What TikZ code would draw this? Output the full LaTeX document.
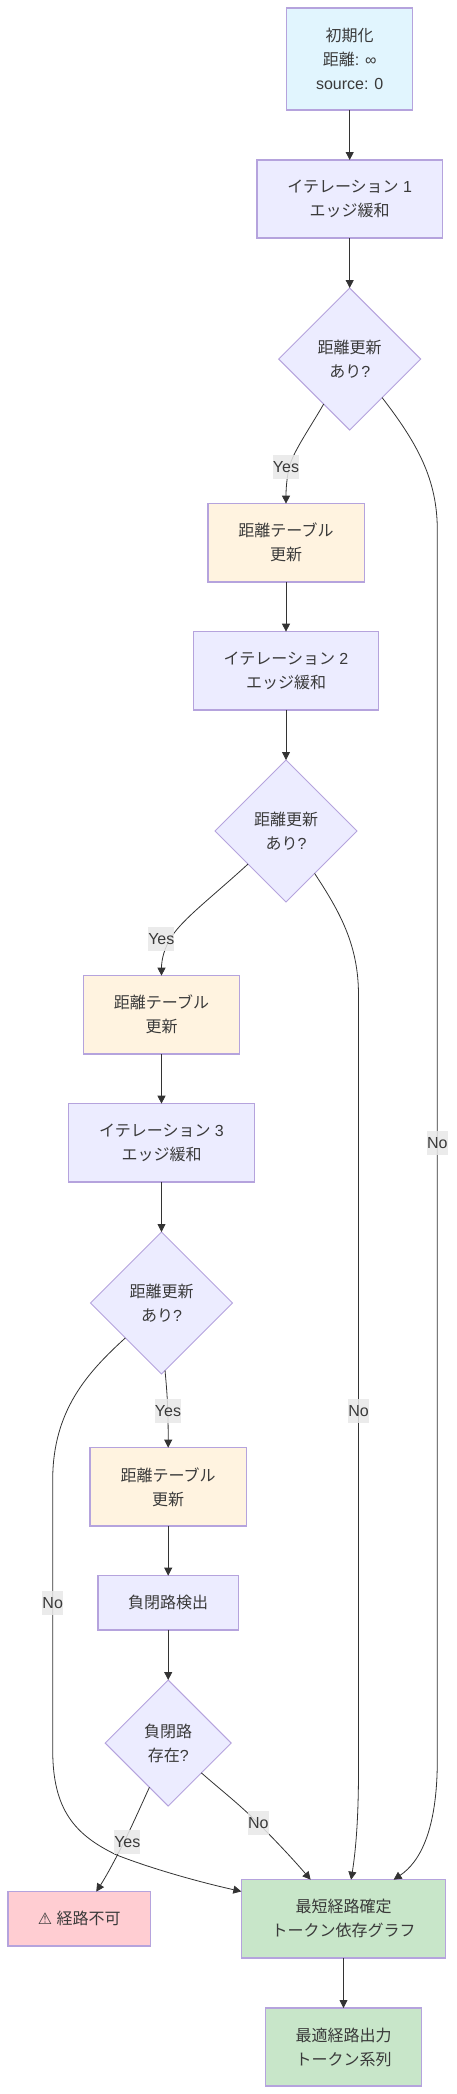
\documentclass[tikz,border=0pt]{standalone}
\usepackage{fontspec}
\setmainfont{Liberation Sans}
\newfontfamily\cjk{Noto Sans CJK JP}
\newfontfamily\sym{DejaVu Sans}
\usetikzlibrary{shapes.geometric,arrows.meta}
\definecolor{ink}{HTML}{3A3A3A}
\definecolor{edgeln}{HTML}{333333}
\definecolor{strokec}{HTML}{B5A3DD}
\definecolor{mainfill}{HTML}{ECECFF}
\definecolor{initfill}{HTML}{E1F5FE}
\definecolor{tabfill}{HTML}{FFF3E0}
\definecolor{okfill}{HTML}{C8E6C9}
\definecolor{badfill}{HTML}{FFCDD2}
\definecolor{lblfill}{HTML}{E8E8E8}
\tikzset{
  base/.style={draw=strokec,line width=1.3pt,inner sep=0pt,outer sep=0pt,text=ink,align=center,
    font=\fontsize{16}{24}\selectfont},
  box/.style={base,rectangle,fill=mainfill},
  initbox/.style={box,fill=initfill},
  tabbox/.style={box,fill=tabfill},
  okbox/.style={box,fill=okfill},
  badbox/.style={box,fill=badfill},
  dec/.style={base,diamond,aspect=1,fill=mainfill,line width=1pt},
  conn/.style={draw=edgeln,line width=0.8pt,-{Triangle[length=8pt,width=8pt]}},
  lbl/.style={fill=lblfill,fill opacity=0.85,text opacity=1,text=ink,inner sep=0pt,outer sep=0pt,
    minimum height=24pt,font=\fontsize{16}{24}\selectfont},
}
\begin{document}
\begin{tikzpicture}[x=1pt,y=-1pt]
\useasboundingbox (0,0) rectangle (456,2094);
\node[initbox,minimum width=126pt,minimum height=102pt] (init) at (349.7,59) {{\cjk 初期化}\\{\cjk 距離}: ∞\\source: 0};
\node[box,minimum width=185.6pt,minimum height=78pt] (it1) at (349.7,199) {{\cjk イテレーション} 1\\{\cjk エッジ緩和}};
\node[dec,minimum width=142pt,minimum height=142pt] (d1) at (349.7,359) {{\cjk 距離更新}\\{\cjk あり}?};
\node[tabbox,minimum width=156.3pt,minimum height=78.3pt] (t1) at (286,542.8) {{\cjk 距離テーブル}\\{\cjk 更新}};
\node[box,minimum width=185.4pt,minimum height=78.3pt] (it2) at (286,670.8) {{\cjk イテレーション} 2\\{\cjk エッジ緩和}};
\node[dec,minimum width=142pt,minimum height=142pt] (d2) at (286,831) {{\cjk 距離更新}\\{\cjk あり}?};
\node[tabbox,minimum width=156.3pt,minimum height=78.3pt] (t2) at (161.5,1014.8) {{\cjk 距離テーブル}\\{\cjk 更新}};
\node[box,minimum width=186pt,minimum height=78.3pt] (it3) at (161.5,1142.8) {{\cjk イテレーション} 3\\{\cjk エッジ緩和}};
\node[dec,minimum width=142pt,minimum height=142pt] (d3) at (161.5,1303) {{\cjk 距離更新}\\{\cjk あり}?};
\node[tabbox,minimum width=156.3pt,minimum height=78.3pt] (t3) at (168.2,1486.8) {{\cjk 距離テーブル}\\{\cjk 更新}};
\node[box,minimum width=140.6pt,minimum height=54.3pt] (neg) at (168.2,1602.8) {{\cjk 負閉路検出}};
\node[dec,minimum width=126pt,minimum height=126pt] (d4) at (168.2,1743) {{\cjk 負閉路}\\{\cjk 存在}?};
\node[badbox,minimum width=142.7pt,minimum height=54.3pt] (bad) at (79.3,1918.8) {{\sym ⚠} {\cjk 経路不可}};
\node[okbox,minimum width=204.4pt,minimum height=78.3pt] (fin) at (343.5,1918.8) {{\cjk 最短経路確定}\\{\cjk トークン依存グラフ}};
\node[okbox,minimum width=156.4pt,minimum height=78pt] (out) at (343.5,2047) {{\cjk 最適経路出力}\\{\cjk トークン系列}};

\draw[conn] (init) -- (it1);
\draw[conn] (it1) -- (d1);
\draw[conn] (t1) -- (it2);
\draw[conn] (it2) -- (d2);
\draw[conn] (t2) -- (it3);
\draw[conn] (it3) -- (d3);
\draw[conn] (t3) -- (neg);
\draw[conn] (neg) -- (d4);
\draw[conn] (fin) -- (out);
\draw[conn] (d1.-120) .. controls (308,431) and (293,452) .. (289,468) .. controls (286.5,480) and (286,490) .. (t1.north);
\draw[conn] (d2.-139.4) .. controls (212,897) and (184,918) .. (172,936) .. controls (164,948) and (161.5,960) .. (t2.north);
\draw[conn] (d3.-87) .. controls (166.8,1390) and (168.2,1405) .. (t3.north);
\draw[conn] (d4.-113.3) .. controls (140,1808) and (131,1828) .. (124,1842) .. controls (116,1858) and (107,1875) .. (bad.58.5);
\draw[conn] (d4.-42.6) .. controls (222,1791) and (238,1803) .. (258,1823) .. controls (275,1840) and (292,1858) .. (fin.130);
\draw[conn] (d1.-50.7) .. controls (418,444) and (437.3,480) .. (437.3,530) -- (437.3,1760) .. controls (437.3,1830) and (420,1862) .. (fin.38.7);
\draw[conn] (d2.-56.5) .. controls (340,912) and (358.5,945) .. (358.5,995) -- (358.5,1770) .. controls (358.5,1825) and (355,1855) .. (fin.79.2);
\draw[conn] (d3.-136.6) .. controls (88,1372) and (52.7,1410) .. (52.7,1480) -- (52.7,1750) .. controls (52.7,1810) and (75,1835) .. (116.7,1855) .. controls (150,1868) and (195,1881) .. (fin.165.3);

\node[lbl,minimum width=26pt] (ly1) at (286,466.7) {Yes};
\node[lbl,minimum width=26pt] (ly2) at (161.3,939) {Yes};
\node[lbl,minimum width=26pt] (ly3) at (168,1410.7) {Yes};
\node[lbl,minimum width=26pt] (ly4) at (127.3,1841.7) {Yes};
\node[lbl,minimum width=20pt] (ln1) at (437.3,1143) {No};
\node[lbl,minimum width=20pt] (ln2) at (358.5,1410.7) {No};
\node[lbl,minimum width=20pt] (ln3) at (52.7,1603) {No};
\node[lbl,minimum width=20pt] (ln4) at (258.3,1823.3) {No};
\end{tikzpicture}
\end{document}
